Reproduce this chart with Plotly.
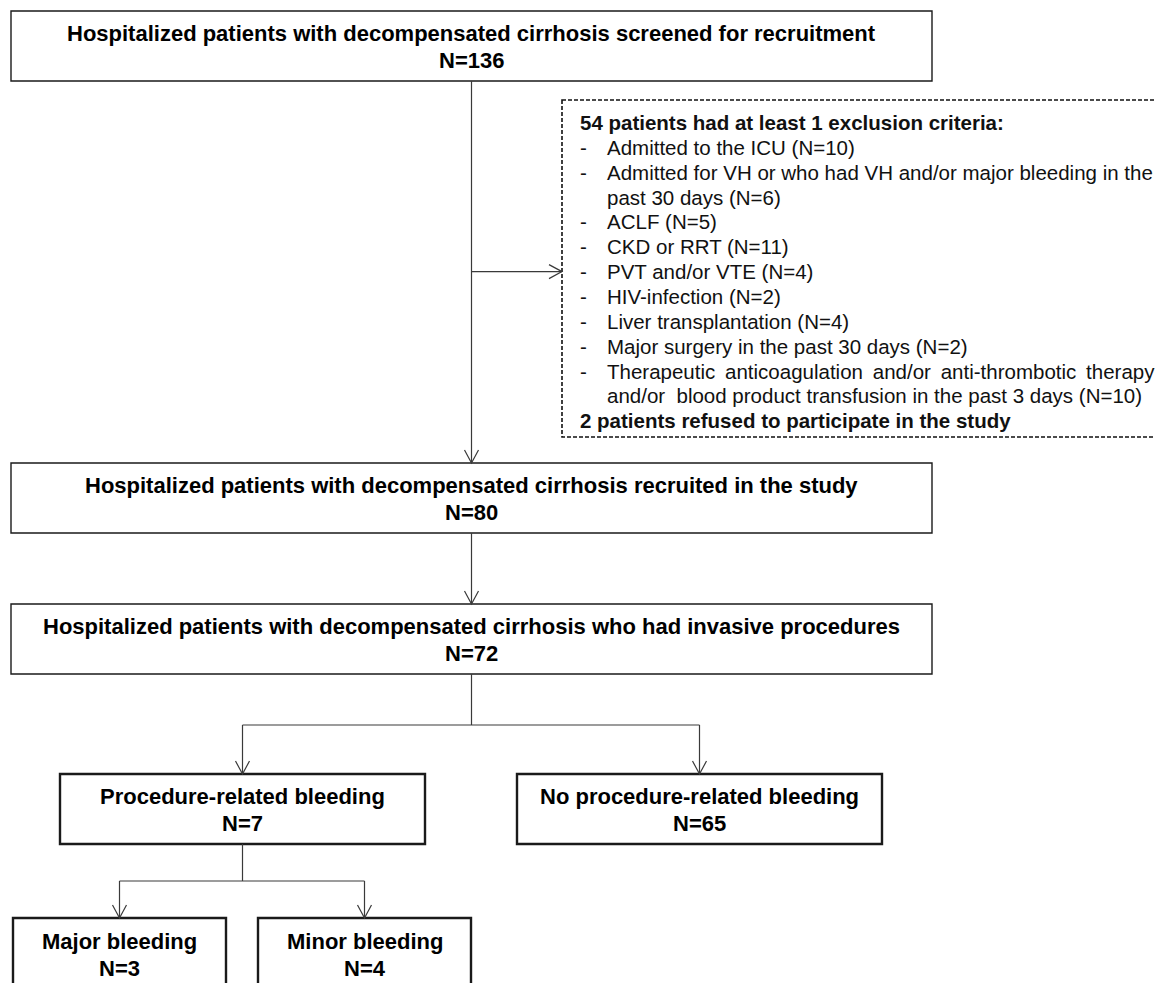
import plotly.graph_objects as go

# ---------------- data ----------------
box_titles = [
    "Hospitalized patients with decompensated cirrhosis screened for recruitment",
    "Hospitalized patients with decompensated cirrhosis recruited in the study",
    "Hospitalized patients with decompensated cirrhosis who had invasive procedures",
    "Procedure-related bleeding",
    "No procedure-related bleeding",
    "Major bleeding",
    "Minor bleeding",
]
box_counts = [136, 80, 72, 7, 65, 3, 4]

excluded_total = 54
refused_total = 2
exclusion_items = [
    ["Admitted to the ICU"],
    ["Admitted for VH or who had VH and/or major bleeding in the", "past 30 days"],
    ["ACLF"],
    ["CKD or RRT"],
    ["PVT and/or VTE"],
    ["HIV-infection"],
    ["Liver transplantation"],
    ["Major surgery in the past 30 days"],
    ["Therapeutic\u2009 anticoagulation\u2009 and/or\u2009 anti-thrombotic\u2009 therapy",
     "and/or\u00a0 blood product transfusion in the past 3 days"],
]
exclusion_counts = [10, 6, 5, 11, 4, 2, 4, 2, 10]

# ---------------- layout geometry (page pixels) ----------------
W, H = 1163, 983
PAGE_MARGIN = 8  # default body margin of the html page
boxes = [  # x0, y0, x1, y1
    (11, 11, 932, 81),
    (11, 463, 932, 533),
    (11, 604, 932, 674),
    (60, 774, 425, 844),
    (517, 774, 882, 844),
    (13, 918, 226, 990),
    (258, 918, 471, 990),
]
box_line_w = [1.4, 1.4, 1.4, 2.4, 2.4, 2.4, 2.4]
excl_box = (562, 100, 1175, 437)
line_color = "#3a3a3a"
FONT = "Liberation Sans, Arial, sans-serif"

fig = go.Figure()
shapes = []
annotations = []

# boxes + text
for i, (x0, y0, x1, y1) in enumerate(boxes):
    shapes.append(dict(type="rect", xref="x", yref="y", x0=x0, y0=y0, x1=x1, y1=y1,
                       line=dict(color="#1a1a1a", width=box_line_w[i]), fillcolor="white"))
    cx = (x0 + x1) / 2
    cy = (y0 + y1) / 2 if y1 <= H else y0 + 36
    for k, txt in enumerate([box_titles[i], f"N={box_counts[i]}"]):
        annotations.append(dict(x=cx, y=cy + (k - 0.5) * 26.5 + 1, xref="x", yref="y",
                                text=f"<b>{txt}</b>", showarrow=False,
                                xanchor="center", yanchor="middle",
                                font=dict(family=FONT, size=22, color="black")))

# exclusion dashed box
ex0, ey0, ex1, ey1 = excl_box
shapes.append(dict(type="rect", xref="x", yref="y", x0=ex0, y0=ey0, x1=ex1, y1=ey1,
                   line=dict(color="#111", width=1.6, dash="4px,2px"), fillcolor="rgba(0,0,0,0)"))

lines = []  # (text, x, bold, has_dash)
lines.append((f"{excluded_total} patients had at least 1 exclusion criteria:", 578, True, False))
for item, n in zip(exclusion_items, exclusion_counts):
    for j, part in enumerate(item):
        txt = part + (f" (N={n})" if j == len(item) - 1 else "")
        lines.append((txt, 605, False, j == 0))
lines.append((f"{refused_total} patients refused to participate in the study", 578, True, False))

y_start, dy = 122.5, 24.85
for k, (txt, xi, bold, dash) in enumerate(lines):
    yy = y_start + k * dy
    annotations.append(dict(x=xi, y=yy, xref="x", yref="y",
                            text=f"<b>{txt}</b>" if bold else txt, showarrow=False,
                            xanchor="left", yanchor="middle",
                            font=dict(family=FONT, size=20.5, color="#111")))
    if dash:
        annotations.append(dict(x=578, y=yy, xref="x", yref="y", text="-", showarrow=False,
                                xanchor="left", yanchor="middle",
                                font=dict(family=FONT, size=20.5, color="#111")))

# connectors
def seg(x0, y0, x1, y1):
    shapes.append(dict(type="line", xref="x", yref="y", x0=x0, y0=y0, x1=x1, y1=y1,
                       line=dict(color=line_color, width=1.2)))

def arrow_down(x, y):
    shapes.append(dict(type="path", xref="x", yref="y",
                       path=f"M {x-7},{y-13} L {x},{y} L {x+7},{y-13}",
                       line=dict(color=line_color, width=1.2)))

def arrow_right(x, y):
    shapes.append(dict(type="path", xref="x", yref="y",
                       path=f"M {x-13},{y-7} L {x},{y} L {x-13},{y+7}",
                       line=dict(color=line_color, width=1.2)))

mx = (boxes[0][0] + boxes[0][2]) / 2
seg(mx, boxes[0][3], mx, boxes[1][1]); arrow_down(mx, boxes[1][1])
side_y = y_start + 6 * dy
seg(mx, side_y, ex0, side_y); arrow_right(ex0, side_y)
seg(mx, boxes[1][3], mx, boxes[2][1]); arrow_down(mx, boxes[2][1])

split1 = 725
lx = (boxes[3][0] + boxes[3][2]) / 2
rx = (boxes[4][0] + boxes[4][2]) / 2
seg(mx, boxes[2][3], mx, split1)
seg(lx, split1, rx, split1)
seg(lx, split1, lx, boxes[3][1]); arrow_down(lx, boxes[3][1])
seg(rx, split1, rx, boxes[4][1]); arrow_down(rx, boxes[4][1])

split2 = 881
ax = (boxes[5][0] + boxes[5][2]) / 2
bx = (boxes[6][0] + boxes[6][2]) / 2
seg(lx, boxes[3][3], lx, split2)
seg(ax, split2, bx, split2)
seg(ax, split2, ax, boxes[5][1]); arrow_down(ax, boxes[5][1])
seg(bx, split2, bx, boxes[6][1]); arrow_down(bx, boxes[6][1])

fig.update_layout(
    width=W - PAGE_MARGIN, height=H - PAGE_MARGIN, margin=dict(l=0, r=0, t=0, b=0),
    plot_bgcolor="white", paper_bgcolor="white",
    xaxis=dict(range=[PAGE_MARGIN, W], visible=False, fixedrange=True),
    yaxis=dict(range=[H, PAGE_MARGIN], visible=False, fixedrange=True),
    shapes=shapes, annotations=annotations, showlegend=False,
)
fig.write_html("out.html")
